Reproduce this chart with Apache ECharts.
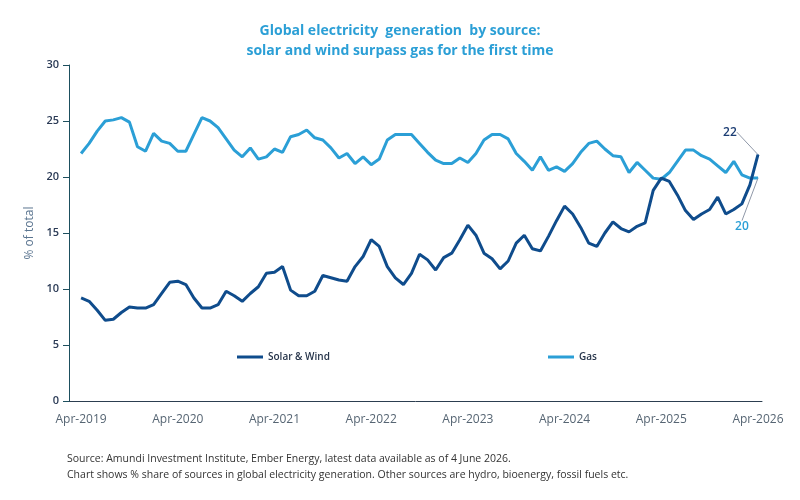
<!DOCTYPE html>
<html>
<head>
<meta charset="utf-8">
<script src="https://cdn.jsdelivr.net/npm/echarts@6/dist/echarts.min.js"></script>
<style>
  html, body { margin: 0; padding: 0; background: #fff; }
  #main { width: 800px; height: 500px; }
</style>
</head>
<body>
<div id="main"></div>
<script>
// monthly shares in % of total, Apr-2019 .. Apr-2026
var solarWind = [
  9.2, 8.9, 8.1, 7.2, 7.3, 7.9, 8.4, 8.3, 8.3, 8.6,
  9.6, 10.6, 10.7, 10.4, 9.2, 8.3, 8.3, 8.6, 9.8, 9.4,
  8.9, 9.6, 10.2, 11.4, 11.5, 12.0, 9.9, 9.4, 9.4, 9.8,
  11.2, 11.0, 10.8, 10.7, 12.0, 12.9, 14.4, 13.8, 12.0, 11.0,
  10.4, 11.4, 13.1, 12.6, 11.7, 12.8, 13.2, 14.4, 15.7, 14.8,
  13.2, 12.7, 11.8, 12.5, 14.1, 14.8, 13.6, 13.4, 14.7, 16.1,
  17.4, 16.7, 15.5, 14.1, 13.8, 15.0, 16.0, 15.4, 15.1, 15.6,
  15.9, 18.8, 19.9, 19.6, 18.4, 17.0, 16.2, 16.7, 17.1, 18.2,
  16.7, 17.1, 17.6, 19.3, 22.0
];
var gas = [
  22.1, 23.0, 24.1, 25.0, 25.1, 25.3, 24.9, 22.7, 22.3, 23.9,
  23.2, 23.0, 22.3, 22.3, 23.8, 25.3, 25.0, 24.4, 23.4, 22.4,
  21.8, 22.6, 21.6, 21.8, 22.5, 22.2, 23.6, 23.8, 24.2, 23.5,
  23.3, 22.6, 21.7, 22.1, 21.2, 21.8, 21.1, 21.6, 23.3, 23.8,
  23.8, 23.8, 23.0, 22.2, 21.5, 21.2, 21.2, 21.7, 21.3, 22.1,
  23.3, 23.8, 23.8, 23.4, 22.1, 21.4, 20.6, 21.8, 20.6, 20.9,
  20.5, 21.2, 22.2, 23.0, 23.2, 22.5, 21.9, 21.8, 20.4, 21.3,
  20.6, 19.9, 19.8, 20.4, 21.4, 22.4, 22.4, 21.9, 21.6, 21.0,
  20.4, 21.4, 20.2, 19.9, 19.9
];
var yTicks = [0, 5, 10, 15, 20, 25, 30];

// category axis runs Mar-2019 .. Apr-2026 (Mar-2019 has no data)
var monthNames = ['Jan', 'Feb', 'Mar', 'Apr', 'May', 'Jun', 'Jul', 'Aug', 'Sep', 'Oct', 'Nov', 'Dec'];
var months = [];
for (var k = 0; k < 86; k++) {
  var m = (2 + k) % 12;
  var y = 2019 + Math.floor((2 + k) / 12);
  months.push(monthNames[m] + '-' + y);
}

var solarColor = '#0f4c8c';
var gasColor = '#2b9fd6';

function buildData(values, labelColor) {
  var out = ['-'];
  values.forEach(function (v, i) {
    if (i === values.length - 1) {
      out.push({
        value: v,
        symbol: 'circle',
        symbolSize: 1,
        label: {
          show: true,
          color: labelColor,
          fontSize: 12,
          fontWeight: 600,
          formatter: function (p) { return Math.round(p.value); }
        },
        labelLine: {
          show: true,
          lineStyle: { color: '#8f98a8', width: 1 }
        }
      });
    } else {
      out.push(v);
    }
  });
  return out;
}

var legendText = { color: '#26344a', fontSize: 10, fontWeight: 600 };

var chartDom = document.getElementById('main');
var myChart = echarts.init(chartDom);
var option;

option = {
  animation: false,
  textStyle: { fontFamily: 'Open Sans' },
  title: [
    {
      text: 'Global electricity  generation  by source:\nsolar and wind surpass gas for the first time',
      left: 'center',
      top: 16,
      textStyle: {
        color: gasColor,
        fontSize: 14,
        fontWeight: 'bold',
        lineHeight: 20,
        fontFamily: 'Open Sans'
      }
    },
    {
      text: 'Source: Amundi Investment Institute, Ember Energy, latest data available as of 4 June 2026.\nChart shows % share of sources in global electricity generation. Other sources are hydro, bioenergy, fossil fuels etc.',
      left: 62,
      top: 446,
      textStyle: {
        color: '#333',
        fontSize: 10.5,
        fontWeight: 'normal',
        lineHeight: 16,
        fontFamily: 'Open Sans'
      }
    }
  ],
  tooltip: {
    trigger: 'axis'
  },
  legend: [
    {
      left: 232,
      top: 347,
      itemWidth: 26,
      itemHeight: 3,
      itemGap: 0,
      icon: 'rect',
      textStyle: legendText,
      data: ['Solar & Wind']
    },
    {
      left: 543,
      top: 347,
      itemWidth: 26,
      itemHeight: 3,
      icon: 'rect',
      textStyle: legendText,
      data: ['Gas']
    }
  ],
  grid: {
    left: 69,
    right: 38,
    top: 65,
    bottom: 99
  },
  xAxis: {
    type: 'category',
    data: months,
    boundaryGap: true,
    axisLine: { lineStyle: { color: '#2c3e50', width: 1 } },
    axisTick: {
      length: 5,
      interval: function (i) { return i % 3 === 1; },
      lineStyle: { color: '#2c3e50' }
    },
    axisLabel: {
      interval: function (i) { return i % 12 === 1; },
      color: '#566573',
      fontSize: 12,
      margin: 13
    },
    splitLine: { show: false }
  },
  yAxis: {
    type: 'value',
    min: yTicks[0],
    max: yTicks[yTicks.length - 1],
    interval: 5,
    name: '% of total',
    nameLocation: 'middle',
    nameGap: 30,
    nameTextStyle: { color: '#5b7590', fontSize: 12 },
    axisLine: { show: true, lineStyle: { color: '#1d4f5e', width: 1 } },
    axisTick: { show: true, length: 6, lineStyle: { color: '#1d4f5e' } },
    axisLabel: { color: '#2a3a55', fontSize: 11, fontWeight: 600, margin: 10 },
    splitLine: { show: false }
  },
  series: [
    {
      name: 'Solar & Wind',
      type: 'line',
      symbol: 'none',
      showSymbol: true,
      color: solarColor,
      lineStyle: { width: 3, color: solarColor },
      labelLayout: { dx: -28, dy: -11 },
      z: 3,
      data: buildData(solarWind, '#1b3d73')
    },
    {
      name: 'Gas',
      type: 'line',
      symbol: 'none',
      showSymbol: true,
      color: gasColor,
      lineStyle: { width: 3, color: gasColor },
      labelLayout: { dx: -16, dy: 60 },
      z: 2,
      data: buildData(gas, gasColor)
    }
  ]
};

option && myChart.setOption(option);
</script>
</body>
</html>
